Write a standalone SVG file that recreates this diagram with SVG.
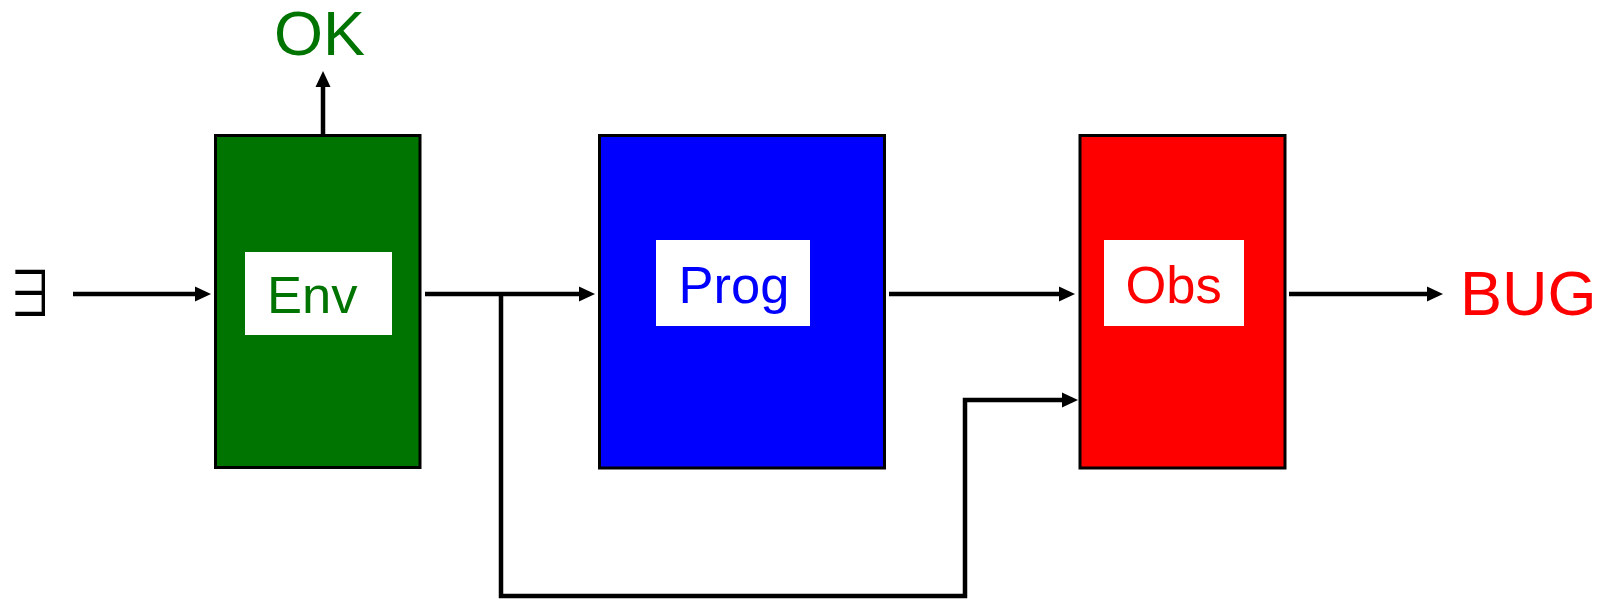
<svg xmlns="http://www.w3.org/2000/svg" width="1610" height="602" viewBox="0 0 1610 602">
<style>
  .box { stroke: #000; stroke-width: 3; }
  .lbl { fill: #fff; stroke: none; }
  .t { font-family: "Liberation Sans", Arial, sans-serif; }
  .conn { fill: none; stroke: #000; stroke-width: 4.5; stroke-linejoin: miter; }
</style>
<defs>
  <marker id="arr" markerUnits="userSpaceOnUse" markerWidth="16" markerHeight="16" refX="8" refY="8" orient="auto">
    <path d="M0,0.5 L16,8 L0,15.5 Z" fill="#000"/>
  </marker>
</defs>
<rect width="1610" height="602" fill="#fff"/>

<g id="exists">
  <text transform="translate(5.7,316) scale(0.78,1)" x="0" y="0" font-family="'Noto Sans CJK JP', 'DejaVu Sans', sans-serif" font-size="63" fill="#000">∃</text>
</g>

<g id="ok">
  <text class="t" x="274" y="54.5" font-size="63" fill="#007400">OK</text>
</g>

<g id="env">
  <rect class="box" x="215.5" y="135.5" width="204.5" height="332" fill="#007400"/>
  <rect class="lbl" x="245" y="252" width="147" height="83"/>
  <text class="t" x="267" y="313" font-size="52.5" fill="#007400">Env</text>
</g>

<g id="prog">
  <rect class="box" x="599.5" y="135.5" width="285" height="332.5" fill="#0000ff"/>
  <rect class="lbl" x="656" y="240" width="154" height="86"/>
  <text class="t" x="678.5" y="302.7" font-size="52.5" fill="#0000ff">Prog</text>
</g>

<g id="obs">
  <rect class="box" x="1080" y="135.5" width="205" height="332.5" fill="#ff0000"/>
  <rect class="lbl" x="1104" y="240" width="140" height="86"/>
  <text class="t" x="1125.5" y="302.7" font-size="52.5" fill="#ff0000">Obs</text>
</g>

<g id="bug">
  <text class="t" x="1460" y="314.5" font-size="63" fill="#ff0000">BUG</text>
</g>

<g id="connectors">
  <path class="conn" d="M73,294 H203" marker-end="url(#arr)"/>
  <path class="conn" d="M323,134 V79" marker-end="url(#arr)"/>
  <path class="conn" d="M425,294 H587" marker-end="url(#arr)"/>
  <path class="conn" d="M501,294 V596 H965 V400 H1070" marker-end="url(#arr)"/>
  <path class="conn" d="M889,294 H1067" marker-end="url(#arr)"/>
  <path class="conn" d="M1289,294 H1435" marker-end="url(#arr)"/>
</g>
</svg>
